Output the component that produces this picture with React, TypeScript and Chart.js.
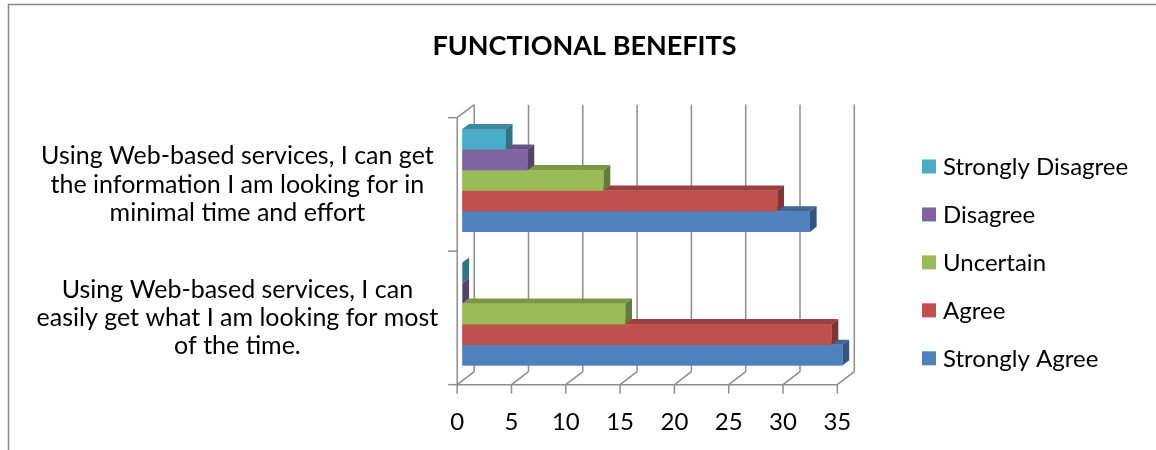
import React, { useEffect, useRef } from "react";
import { Chart, registerables } from "chart.js";

Chart.register(...registerables);

const titleText = "FUNCTIONAL BENEFITS";

const categoryLabels: string[][] = [
  ["Using Web-based services, I can get", "the information I am looking for in", "minimal time and effort"],
  ["Using Web-based services, I can", "easily get what I am looking for most", "of the time."],
];

const seriesLabels = ["Strongly Disagree", "Disagree", "Uncertain", "Agree", "Strongly Agree"];
const stronglyDisagreeValues = [4, 0];
const disagreeValues = [6, 0];
const uncertainValues = [13, 15];
const agreeValues = [29, 34];
const stronglyAgreeValues = [32, 35];

const xTickValues = [0, 5, 10, 15, 20, 25, 30, 35];

const seriesColors = ["#4BACC6", "#8064A2", "#9BBB59", "#C0504D", "#4F81BD"];

const FONT = "Lato";
const GRID = "#8d8d8d";
const FRONT = { dx: -5.1, dy: 3.9 };
const BACK = { dx: 11.9, dy: -9.1 };
const BAR_DEPTH = { dx: 6.8, dy: -5.2 };

function shade(hex: string, f: number) {
  const n = parseInt(hex.slice(1), 16);
  const r = Math.round(((n >> 16) & 255) * f);
  const g = Math.round(((n >> 8) & 255) * f);
  const b = Math.round((n & 255) * f);
  return `rgb(${r},${g},${b})`;
}

function line(ctx: CanvasRenderingContext2D, x1: number, y1: number, x2: number, y2: number) {
  ctx.beginPath();
  ctx.moveTo(x1, y1);
  ctx.lineTo(x2, y2);
  ctx.stroke();
}

const threeDPlugin = {
  id: "threeD",
  beforeDraw(chart: any) {
    const ctx = chart.ctx as CanvasRenderingContext2D;
    ctx.save();
    ctx.strokeStyle = "#888888";
    ctx.lineWidth = 1.5;
    line(ctx, 8, 4.5, chart.width, 4.5);
    line(ctx, 8.5, 4, 8.5, chart.height);
    ctx.restore();
  },
  beforeDatasetsDraw(chart: any) {
    const ctx = chart.ctx as CanvasRenderingContext2D;
    const xs = chart.scales.x;
    const ys = chart.scales.y;
    const area = chart.chartArea;
    ctx.save();
    ctx.strokeStyle = GRID;
    ctx.lineWidth = 1.5;
    const x0 = xs.getPixelForValue(xTickValues[0]);
    const xN = xs.getPixelForValue(xTickValues[xTickValues.length - 1]);
    xTickValues.forEach((v) => {
      const px = xs.getPixelForValue(v);
      line(ctx, px + BACK.dx, area.top + BACK.dy, px + BACK.dx, area.bottom + BACK.dy);
      line(ctx, px + FRONT.dx, area.bottom + FRONT.dy, px + BACK.dx, area.bottom + BACK.dy);
      line(ctx, px + FRONT.dx, area.bottom + FRONT.dy, px + FRONT.dx, area.bottom + FRONT.dy + 9);
    });
    line(ctx, x0 + FRONT.dx, area.bottom + FRONT.dy, xN + FRONT.dx, area.bottom + FRONT.dy);
    line(ctx, x0 + FRONT.dx, area.top + FRONT.dy, x0 + FRONT.dx, area.bottom + FRONT.dy);
    line(ctx, x0 + FRONT.dx, area.top + FRONT.dy, x0 + BACK.dx, area.top + BACK.dy);
    const n = chart.data.labels.length;
    const band = n > 1 ? ys.getPixelForValue(1) - ys.getPixelForValue(0) : area.height;
    for (let k = 0; k <= n; k++) {
      const yb = ys.getPixelForValue(0) - band / 2 + k * band + FRONT.dy;
      line(ctx, x0 + FRONT.dx - 9, yb, x0 + FRONT.dx, yb);
    }
    ctx.restore();
  },
  afterDatasetsDraw(chart: any) {
    const ctx = chart.ctx as CanvasRenderingContext2D;
    const count = chart.data.datasets.length;
    const n = chart.data.labels.length;
    ctx.save();
    for (let c = 0; c < n; c++) {
      for (let d = count - 1; d >= 0; d--) {
        const meta = chart.getDatasetMeta(d);
        const el = meta.data[c];
        if (!el) continue;
        const { x, y, base, height } = el.getProps(["x", "y", "base", "height"], true);
        const left = Math.min(x, base);
        const right = Math.max(x, base);
        const top = y - height / 2;
        const bottom = y + height / 2;
        const col = chart.data.datasets[d].backgroundColor as string;
        ctx.fillStyle = shade(col, 0.8);
        ctx.beginPath();
        ctx.moveTo(left, top);
        ctx.lineTo(left + BAR_DEPTH.dx, top + BAR_DEPTH.dy);
        ctx.lineTo(right + BAR_DEPTH.dx, top + BAR_DEPTH.dy);
        ctx.lineTo(right, top);
        ctx.closePath();
        ctx.fill();
        ctx.fillStyle = shade(col, 0.66);
        ctx.beginPath();
        ctx.moveTo(right, top);
        ctx.lineTo(right + BAR_DEPTH.dx, top + BAR_DEPTH.dy);
        ctx.lineTo(right + BAR_DEPTH.dx, bottom + BAR_DEPTH.dy);
        ctx.lineTo(right, bottom);
        ctx.closePath();
        ctx.fill();
        ctx.fillStyle = col;
        ctx.fillRect(left, top, right - left, height);
      }
    }
    ctx.restore();
  },
  afterDraw(chart: any) {
    const ctx = chart.ctx as CanvasRenderingContext2D;
    ctx.save();
    ctx.font = `24px ${FONT}`;
    ctx.textAlign = "left";
    ctx.textBaseline = "alphabetic";
    chart.data.datasets.forEach((ds: any, i: number) => {
      const cy = 166.5 + i * 47.95;
      ctx.fillStyle = ds.backgroundColor;
      ctx.fillRect(922, cy - 7, 14, 14);
      ctx.fillStyle = "#000000";
      ctx.fillText(ds.label, 943, cy + 8.6);
    });
    ctx.restore();
  },
};

export default function App() {
  const canvasRef = useRef<HTMLCanvasElement | null>(null);

  useEffect(() => {
    if (!canvasRef.current) return;
    const valueSets = [stronglyDisagreeValues, disagreeValues, uncertainValues, agreeValues, stronglyAgreeValues];
    const chart = new Chart(canvasRef.current, {
      type: "bar",
      data: {
        labels: categoryLabels,
        datasets: seriesLabels.map((label, i) => ({
          label,
          data: valueSets[i],
          backgroundColor: seriesColors[i],
          borderWidth: 0,
          categoryPercentage: 0.77,
          barPercentage: 1.0,
        })),
      },
      options: {
        indexAxis: "y",
        animation: false,
        responsive: true,
        maintainAspectRatio: false,
        events: [],
        layout: { padding: 0 },
        font: { family: FONT },
        plugins: {
          legend: { display: false },
          tooltip: { enabled: false },
          title: {
            display: true,
            text: titleText,
            color: "#000000",
            font: { family: FONT, size: 27, weight: "bold", lineHeight: 1.2 },
            padding: { top: 30, bottom: 51.35 },
          },
        },
        scales: {
          x: {
            type: "linear",
            min: 0,
            max: 35,
            grid: { display: false, drawTicks: false },
            border: { display: false },
            afterBuildTicks: (s: any) => {
              s.ticks = xTickValues.map((v) => ({ value: v }));
            },
            ticks: {
              color: "#000000",
              font: { family: FONT, size: 24 },
              padding: 27,
              labelOffset: -5.1,
              maxRotation: 0,
              autoSkip: false,
            },
            afterFit: (s: any) => {
              s.height = 450 - 380.75;
            },
          },
          y: {
            type: "category",
            grid: { display: false, drawTicks: false },
            border: { display: false },
            ticks: {
              color: "#000000",
              font: { family: FONT, size: 25, lineHeight: 1.13 },
              crossAlign: "center",
              padding: 24,
              labelOffset: 4,
              autoSkip: false,
            },
            afterFit: (s: any) => {
              s.width = 462.3;
            },
          },
          yRight: {
            type: "category",
            position: "right",
            display: true,
            grid: { display: false, drawTicks: false },
            border: { display: false },
            ticks: { display: false },
            afterFit: (s: any) => {
              s.width = 1169 - 842.4;
            },
          },
        },
      } as any,
      plugins: [threeDPlugin],
    });
    return () => chart.destroy();
  }, []);

  return (
    <div style={{ position: "absolute", left: 0, top: 0, width: 1156, height: 450, overflow: "hidden", background: "#ffffff" }}>
      <div style={{ position: "relative", width: 1169, height: 450 }}>
        <canvas ref={canvasRef} />
      </div>
    </div>
  );
}
